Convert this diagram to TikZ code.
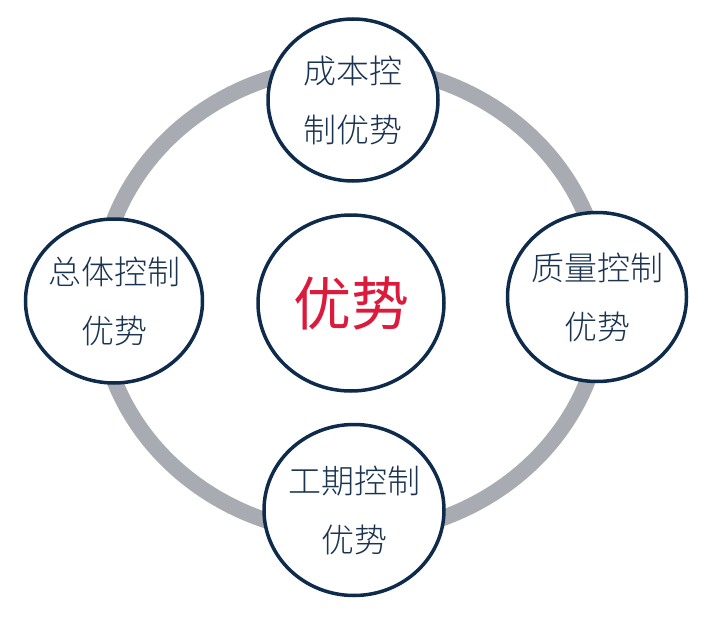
\documentclass[tikz,border=0pt]{standalone}
\usepackage{fontspec}
\usetikzlibrary{shapes.geometric}
\newfontfamily\cjk{Noto Sans CJK SC}
\newfontfamily\cjklight{Noto Sans CJK SC Light}
\definecolor{ringgray}{HTML}{A8ABB1}
\definecolor{navy}{HTML}{0F2B4C}
\definecolor{navytext}{HTML}{1A3350}
\definecolor{hubred}{HTML}{DC1A3C}
\begin{document}
\begin{tikzpicture}[
  x=1pt, y=-1pt,
  ring/.style={draw=ringgray, line width=16pt},
  bubble/.style={ellipse, draw=navy, line width=3.5pt, fill=white, inner sep=-30pt,
    align=center, text=navytext, font=\cjklight\fontsize{33}{59}\selectfont}
]
\useasboundingbox (0,0) rectangle (712,623);
\coordinate (mid) at (351,300);
\draw[ring] (mid) ellipse [x radius=252, y radius=234];
\node[bubble, minimum width=170pt, minimum height=162pt] (cost) at (353,100) {成本控\\制优势};
\node[bubble, minimum width=177pt, minimum height=164pt] (overall) at (114,301) {总体控制\\优势};
\node[bubble, minimum width=179pt, minimum height=169pt] (quality) at (597,297) {质量控制\\优势};
\node[bubble, minimum width=180pt, minimum height=171pt] (schedule) at (354,510) {工期控制\\优势};
\node[bubble, minimum width=186pt, minimum height=176pt, text=hubred,
  font=\cjk\fontsize{58}{60}\selectfont] (hub) at (351,303) {优势};
\end{tikzpicture}
\end{document}
